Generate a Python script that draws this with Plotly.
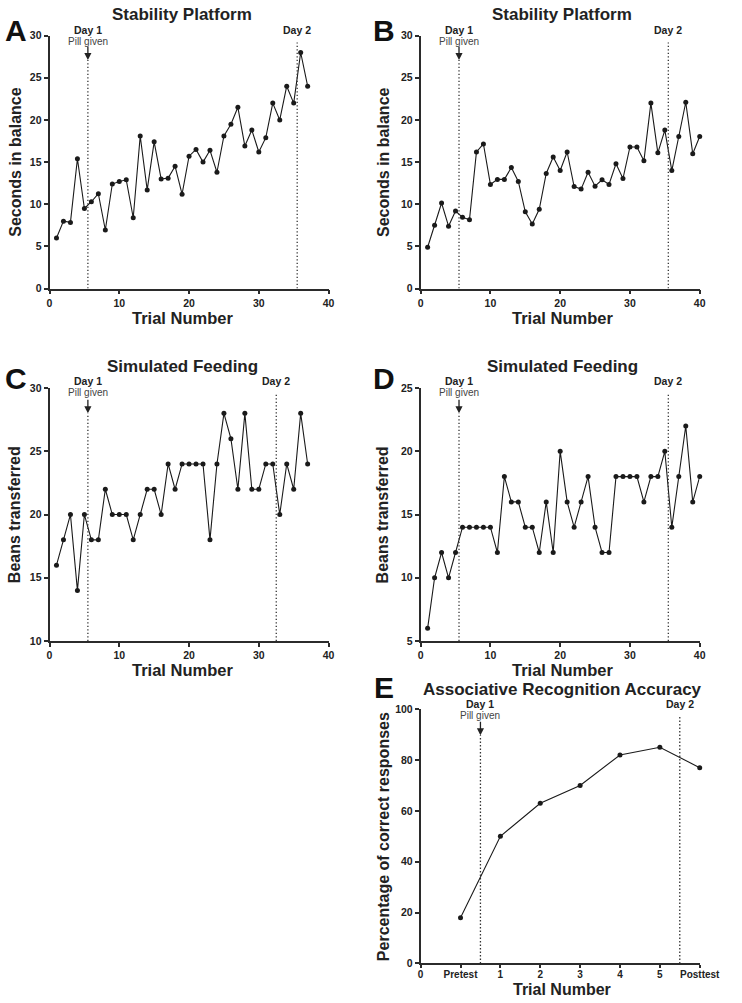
import plotly.graph_objects as go

W, H = 742, 1003
FONT = "Arial, 'Liberation Sans', Helvetica, sans-serif"
INK = "#222222"

# ---------------- data ----------------
trials_A = list(range(1, 38))
seconds_A = [6.0, 8.0, 7.85, 15.4, 9.5, 10.3, 11.25, 6.95, 12.4, 12.7, 12.9, 8.4,
             18.1, 11.7, 17.4, 13.0, 13.1, 14.5, 11.2, 15.7, 16.5, 15.0, 16.4, 13.8,
             18.1, 19.5, 21.5, 16.9, 18.8, 16.2, 17.9, 22.0, 20.0, 24.0, 22.0, 28.0, 24.0]

trials_B = list(range(1, 41))
seconds_B = [4.9, 7.5, 10.15, 7.4, 9.2, 8.45, 8.15, 16.2, 17.15, 12.35, 12.95, 12.95,
             14.35, 12.7, 9.1, 7.65, 9.4, 13.65, 15.6, 14.0, 16.2, 12.1, 11.8, 13.8,
             12.15, 12.9, 12.35, 14.8, 13.05, 16.8, 16.8, 15.15, 22.0, 16.1, 18.8, 14.0,
             18.05, 22.1, 16.0, 18.05]

trials_C = list(range(1, 38))
beans_C = [16, 18, 20, 14, 20, 18, 18, 22, 20, 20, 20, 18, 20, 22, 22, 20, 24, 22, 24,
           24, 24, 24, 18, 24, 28, 26, 22, 28, 22, 22, 24, 24, 20, 24, 22, 28, 24]

trials_D = list(range(1, 41))
beans_D = [6, 10, 12, 10, 12, 14, 14, 14, 14, 14, 12, 18, 16, 16, 14, 14, 12, 16, 12, 20,
           16, 14, 16, 18, 14, 12, 12, 18, 18, 18, 18, 16, 18, 18, 20, 14, 18, 22, 16, 18]

positions_E = [1, 2, 3, 4, 5, 6, 7]
accuracy_E = [18, 50, 63, 70, 82, 85, 77]
tickvals_E = [0, 1, 2, 3, 4, 5, 6, 7]
ticktext_E = ["0", "Pretest", "1", "2", "3", "4", "5", "Posttest"]

# day markers: (day1 x, arrow tip y, day2 x, day2 line top y)
day_A = (5.5, 27.1, 35.5, 29.2)
day_B = (5.5, 27.1, 35.5, 29.2)
day_C = (5.5, 28.0, 32.5, 29.5)
day_D = (5.5, 23.0, 35.5, 24.5)
day_E = (1.5, 89.7, 6.5, 97.2)


def fx(p):
    return p / W


def fy(p):
    return 1 - p / H


panels = [
    dict(key="A", xs=trials_A, ys=seconds_A, xpx=(48, 336), ypx=(30, 286),
         xr=[0, 40], yr=[0, 30], ydt=5, y0=0, title="Stability Platform",
         ytitle="Seconds in balance", day=day_A, top=24),
    dict(key="B", xs=trials_B, ys=seconds_B, xpx=(431, 719), ypx=(30, 286),
         xr=[0, 40], yr=[0, 30], ydt=5, y0=0, title="Stability Platform",
         ytitle="Seconds in balance", day=day_B, top=24),
    dict(key="C", xs=trials_C, ys=beans_C, xpx=(48, 336), ypx=(386.7, 642.7),
         xr=[0, 40], yr=[10, 30], ydt=5, y0=10, title="Simulated Feeding",
         ytitle="Beans transferred", day=day_C, top=380),
    dict(key="D", xs=trials_D, ys=beans_D, xpx=(431, 719), ypx=(386.7, 642.7),
         xr=[0, 40], yr=[5, 25], ydt=5, y0=5, title="Simulated Feeding",
         ytitle="Beans transferred", day=day_D, top=380),
    dict(key="E", xs=positions_E, ys=accuracy_E, xpx=(431, 719), ypx=(711.7, 969),
         xr=[0, 7], yr=[0, 100], ydt=20, y0=0, title="Associative Recognition Accuracy",
         ytitle="Percentage of correct responses", day=day_E, top=706.7),
]

fig = go.Figure()
layout = dict(width=W, height=H, margin=dict(l=0, r=0, t=0, b=0),
              paper_bgcolor="white", plot_bgcolor="white", showlegend=False,
              font=dict(family=FONT, color=INK))
annotations = []
shapes = []

axis_common = dict(showline=True, linecolor="#2b2b2b", linewidth=1.7, ticks="outside",
                   ticklen=4, tickwidth=1.5, tickcolor="#2b2b2b", showgrid=False,
                   zeroline=False, fixedrange=True,
                   tickfont=dict(family=FONT, size=10.5, color=INK, weight="bold"))

DOT = dict(color="#333333", width=1.3, dash="1.3px,2.2px")

for i, p in enumerate(panels, start=1):
    xa = "x" if i == 1 else f"x{i}"
    ya = "y" if i == 1 else f"y{i}"
    xkey = "xaxis" if i == 1 else f"xaxis{i}"
    ykey = "yaxis" if i == 1 else f"yaxis{i}"
    x0p, x1p = p["xpx"]
    ytp, ybp = p["ypx"]
    xaxis = dict(axis_common, domain=[fx(x0p), fx(x1p)], range=p["xr"], anchor=ya)
    if p["key"] == "E":
        xaxis.update(tickmode="array", tickvals=tickvals_E, ticktext=ticktext_E,
                     ticklen=3, ticklabelstandoff=-2,
                     tickfont=dict(family=FONT, size=10, color=INK, weight="bold"))
    else:
        xaxis.update(tickmode="linear", tick0=0, dtick=10)
    yaxis = dict(axis_common, domain=[fy(ybp), fy(ytp)], range=p["yr"], anchor=xa,
                 tickmode="linear", tick0=p["y0"], dtick=p["ydt"])
    layout[xkey] = xaxis
    layout[ykey] = yaxis

    fig.add_trace(go.Scatter(x=p["xs"], y=p["ys"], xaxis=xa, yaxis=ya, mode="lines+markers",
                             line=dict(color="#1a1a1a", width=1.1),
                             marker=dict(color="#1a1a1a", size=5), cliponaxis=False,
                             hoverinfo="skip"))

    d1x, tip, d2x, d2top = p["day"]
    y_lo = p["yr"][0]
    shapes.append(dict(type="line", xref=xa, yref=ya, x0=d1x, x1=d1x, y0=y_lo, y1=tip,
                       line=DOT))
    shapes.append(dict(type="line", xref=xa, yref=ya, x0=d2x, x1=d2x, y0=y_lo, y1=d2top,
                       line=DOT))
    annotations.append(dict(x=d1x, y=tip, xref=xa, yref=ya, text="", showarrow=True,
                            ax=0, ay=-15, arrowhead=2, arrowsize=1.1, arrowwidth=1.3,
                            arrowcolor="#222222"))
    top = p["top"]
    annotations.append(dict(x=d1x, y=fy(top), xref=xa, yref="paper", text="Day 1",
                            showarrow=False, yanchor="middle", xanchor="center",
                            font=dict(size=10.5, weight="bold", color=INK)))
    annotations.append(dict(x=d1x, y=fy(top + 11.5), xref=xa, yref="paper", text="Pill given",
                            showarrow=False, yanchor="middle", xanchor="center",
                            font=dict(size=10, color="#444444")))
    annotations.append(dict(x=d2x, y=fy(top), xref=xa, yref="paper", text="Day 2",
                            showarrow=False, yanchor="middle", xanchor="center",
                            font=dict(size=10.5, weight="bold", color=INK)))

    left = p["key"] in ("A", "C")
    title_y = {"A": 9, "B": 9, "C": 365, "D": 365, "E": 692}[p["key"]]
    title_x = 185 if left else 577
    annotations.append(dict(x=fx(title_x), y=fy(title_y), xref="paper", yref="paper",
                            text=p["title"], showarrow=False, xanchor="center",
                            yanchor="middle", font=dict(size=17, weight="bold", color=INK)))
    letter_y = {"A": 25, "B": 25, "C": 377, "D": 377, "E": 690}[p["key"]]
    letter_x = 13 if left else 393
    annotations.append(dict(x=fx(letter_x), y=fy(letter_y), xref="paper", yref="paper",
                            text=p["key"], showarrow=False, xanchor="center",
                            yanchor="middle", font=dict(size=30, weight="bold", color="#111111")))
    ytitle_x = 12 if left else 392
    annotations.append(dict(x=fx(ytitle_x), y=fy((ytp + ybp) / 2), xref="paper", yref="paper",
                            text=p["ytitle"], textangle=-90, showarrow=False,
                            xanchor="center", yanchor="middle",
                            font=dict(size=16, weight="bold", color=INK)))
    xt_y = {"A": 315.5, "B": 315.5, "C": 672.5, "D": 672.5, "E": 995.5}[p["key"]]
    xt_size = 16 if p["key"] == "E" else 16.5
    annotations.append(dict(x=fx(title_x), y=fy(xt_y), xref="paper", yref="paper",
                            text="Trial Number", showarrow=False, xanchor="center",
                            yanchor="middle", font=dict(size=xt_size, weight="bold", color=INK)))

layout["annotations"] = annotations
layout["shapes"] = shapes
fig.update_layout(**layout)

fig.write_html("out.html", config={"displayModeBar": False},
               post_script="document.body.style.margin='0';document.body.style.overflow='hidden';")
